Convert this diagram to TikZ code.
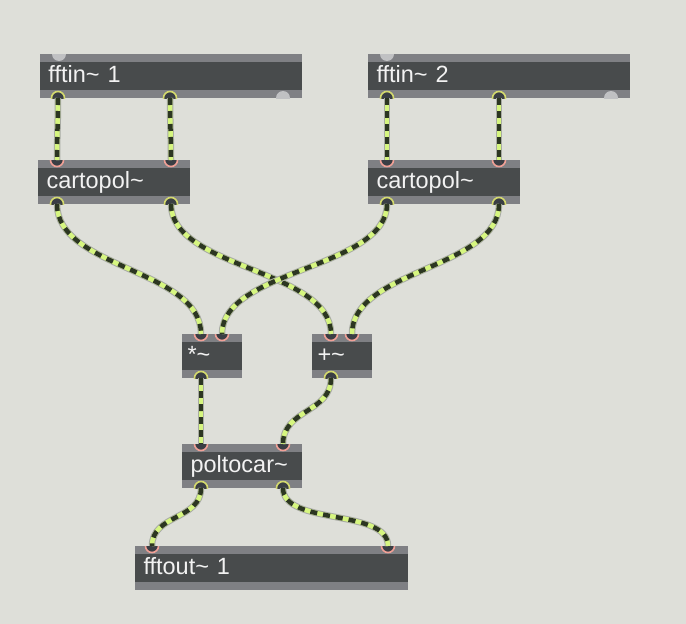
\documentclass[tikz,border=0pt]{standalone}
\usepackage{fontspec}
\setmainfont{Liberation Sans}
\definecolor{bgcol}{RGB}{222,223,217}
\definecolor{bodycol}{RGB}{72,75,76}
\definecolor{barcol}{RGB}{127,128,132}
\definecolor{txtcol}{RGB}{242,242,242}
\definecolor{offcol}{RGB}{192,193,195}
\definecolor{portfill}{RGB}{58,62,68}
\definecolor{inletcol}{RGB}{240,160,150}
\definecolor{outletcol}{RGB}{212,218,110}
\definecolor{cablelight}{RGB}{214,246,128}
\definecolor{cabledark}{RGB}{44,54,34}
\definecolor{cableedge}{RGB}{168,171,163}
\tikzset{
  maxbox/.style={anchor=north west, fill=bodycol, inner sep=0pt, outer sep=0pt,
    minimum height=44pt, text=txtcol, font=\fontsize{23.5}{25}\selectfont,
    text height=17pt, text depth=4pt, align=left,
    path picture={
      \fill[barcol] (path picture bounding box.north west) rectangle ([yshift=-8pt]path picture bounding box.north east);
      \fill[barcol] ([yshift=8pt]path picture bounding box.south west) rectangle (path picture bounding box.south east);
    }},
  inletport/.style={fill=portfill, draw=inletcol, line width=1.6pt},
  outletport/.style={fill=portfill, draw=outletcol, line width=1.6pt},
  offport/.style={fill=offcol},
  cable/.style={draw=cableedge, line width=6.5pt,
    postaction={draw=cablelight, line width=4.5pt},
    postaction={draw=cabledark, line width=4.5pt, dash pattern=on 7pt off 6pt}},
}
\begin{document}
\begin{tikzpicture}[x=1pt,y=-1pt]
\useasboundingbox (0,0) rectangle (686,624);
\fill[bgcol] (0,0) rectangle (686,624);

% boxes
\node[maxbox, minimum width=262pt, text width=245pt] (fftinA) at (40,54) {fftin\char`~\ 1};
\node[maxbox, minimum width=262pt, text width=245pt] (fftinB) at (368,54) {fftin\char`~\ 2};
\node[maxbox, minimum width=152pt, text width=135pt] (cartA) at (38,160) {cartopol\char`~};
\node[maxbox, minimum width=152pt, text width=135pt] (cartB) at (368,160) {cartopol\char`~};
\node[maxbox, minimum width=60pt, text width=49pt] (mul) at (182,334) {*\char`~};
\node[maxbox, minimum width=60pt, text width=49pt] (add) at (312,334) {+\char`~};
\node[maxbox, minimum width=120pt, text width=103pt] (pol) at (182,444) {poltocar\char`~};
\node[maxbox, minimum width=273pt, text width=256pt] (fout) at (135,546) {fftout\char`~\ 1};

% ports
\begin{scope}
\clip (fftinA.north west) rectangle (fftinA.south east);
\fill[offport] (59,54) circle (7pt);
\fill[offport] (283,98) circle (7pt);
\draw[outletport] (58,98) coordinate (fAo0) circle (6.5pt);
\draw[outletport] (170,98) coordinate (fAo1) circle (6.5pt);
\end{scope}
\begin{scope}
\clip (fftinB.north west) rectangle (fftinB.south east);
\fill[offport] (387,54) circle (7pt);
\fill[offport] (611,98) circle (7pt);
\draw[outletport] (387,98) coordinate (fBo0) circle (6.5pt);
\draw[outletport] (499,98) coordinate (fBo1) circle (6.5pt);
\end{scope}
\begin{scope}
\clip (cartA.north west) rectangle (cartA.south east);
\draw[inletport] (57,160) coordinate (cAi0) circle (6.5pt);
\draw[inletport] (171,160) coordinate (cAi1) circle (6.5pt);
\draw[outletport] (57,204) coordinate (cAo0) circle (6.5pt);
\draw[outletport] (171,204) coordinate (cAo1) circle (6.5pt);
\end{scope}
\begin{scope}
\clip (cartB.north west) rectangle (cartB.south east);
\draw[inletport] (387,160) coordinate (cBi0) circle (6.5pt);
\draw[inletport] (499,160) coordinate (cBi1) circle (6.5pt);
\draw[outletport] (387,204) coordinate (cBo0) circle (6.5pt);
\draw[outletport] (499,204) coordinate (cBo1) circle (6.5pt);
\end{scope}
\begin{scope}
\clip (mul.north west) rectangle (mul.south east);
\draw[inletport] (201,334) coordinate (mi0) circle (6.5pt);
\draw[inletport] (222,334) coordinate (mi1) circle (6.5pt);
\draw[outletport] (201,378) coordinate (mo0) circle (6.5pt);
\end{scope}
\begin{scope}
\clip (add.north west) rectangle (add.south east);
\draw[inletport] (331,334) coordinate (ai0) circle (6.5pt);
\draw[inletport] (352,334) coordinate (ai1) circle (6.5pt);
\draw[outletport] (331,378) coordinate (ao0) circle (6.5pt);
\end{scope}
\begin{scope}
\clip (pol.north west) rectangle (pol.south east);
\draw[inletport] (201,444) coordinate (pi0) circle (6.5pt);
\draw[inletport] (283,444) coordinate (pi1) circle (6.5pt);
\draw[outletport] (201,488) coordinate (po0) circle (6.5pt);
\draw[outletport] (283,488) coordinate (po1) circle (6.5pt);
\end{scope}
\begin{scope}
\clip (fout.north west) rectangle (fout.south east);
\draw[inletport] (152,546) coordinate (oi0) circle (6.5pt);
\draw[inletport] (388,546) coordinate (oi1) circle (6.5pt);
\end{scope}

% cables
\draw[cable] (fAo0) .. controls +(0,25) and +(0,-25) .. (cAi0);
\draw[cable] (fAo1) .. controls +(0,25) and +(0,-25) .. (cAi1);
\draw[cable] (fBo0) .. controls +(0,25) and +(0,-25) .. (cBi0);
\draw[cable] (fBo1) .. controls +(0,25) and +(0,-25) .. (cBi1);
\draw[cable] (cAo0) .. controls +(0,65) and +(0,-65) .. (mi0);
\draw[cable] (cAo1) .. controls +(0,65) and +(0,-65) .. (ai0);
\draw[cable] (cBo0) .. controls +(0,65) and +(0,-65) .. (mi1);
\draw[cable] (cBo1) .. controls +(0,65) and +(0,-65) .. (ai1);
\draw[cable] (mo0) .. controls +(0,25) and +(0,-25) .. (pi0);
\draw[cable] (ao0) .. controls +(0,35) and +(0,-35) .. (pi1);
\draw[cable] (po0) .. controls +(0,32) and +(0,-32) .. (oi0);
\draw[cable] (po1) .. controls +(0,38) and +(0,-38) .. (oi1);
\end{tikzpicture}
\end{document}
